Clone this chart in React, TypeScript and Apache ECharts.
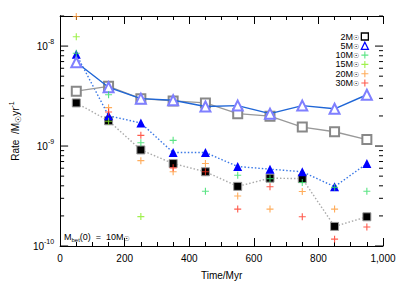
import React, { useEffect, useRef } from "react";
import * as echarts from "echarts";

const times = [50, 150, 250, 350, 450, 550, 650, 750, 850, 950];
const open2M = [3.54e-9, 3.96e-9, 2.98e-9, 2.83e-9, 2.7e-9, 2.11e-9, 1.99e-9, 1.55e-9, 1.39e-9, 1.16e-9];
const open5M = [6.89e-9, 3.87e-9, 2.98e-9, 2.87e-9, 2.49e-9, 2.54e-9, 2.11e-9, 2.54e-9, 2.36e-9, 3.26e-9];
const filled2M = [2.7e-9, 1.79e-9, 9.14e-10, 6.68e-10, 5.53e-10, 3.95e-10, 4.77e-10, 4.72e-10, 1.57e-10, 1.96e-10];
const filled5M = [8.3e-9, 2.01e-9, 1.7e-9, 8.61e-10, 8.61e-10, 6.24e-10, 5.87e-10, 5.53e-10, 3.92e-10, 6.68e-10];
const cross10M = [8.49e-9, 3.26e-9, 1.08e-9, 1.14e-9, 3.53e-10, 5.1e-10, 4.72e-10, 4.32e-10, 3.86e-10, 3.53e-10];
const cross15M = [1.24e-8, 1.77e-9, 1.97e-10, null, null, null, null, null, null, null];
const cross20M = [1.98e-8, 2.42e-9, 7.14e-10, 5.53e-10, 6.68e-10, 3.16e-10, 2.34e-10, 3.51e-10, 2.34e-10, null];
const cross30M = [null, 2.19e-9, 1.28e-9, 6.05e-10, 5.53e-10, 2.34e-10, 3.92e-10, 1.96e-10, 1.17e-10, 1.55e-10];
const yMin = 1e-10;
const yMax = 2e-8;
const hLineValue = 1e-9;

const FONT = "Liberation Sans, Arial, sans-serif";
const SUN = "DejaVu Sans";
const PLUS = "path://M4.2,0H5.8V4.2H10V5.8H5.8V10H4.2V5.8H0V4.2H4.2Z";

const pairs = (arr: (number | null)[]) =>
  times.map((t, i) => [t, arr[i]] as [number, number | null]).filter((p) => p[1] !== null);

export default function App() {
  const ref = useRef<HTMLDivElement>(null);
  useEffect(() => {
    if (!ref.current) return;
    const chart = echarts.init(ref.current, null, { renderer: "svg" });
    const crossSeries = (name: string, data: (number | null)[], color: string) => ({
      name,
      type: "scatter",
      data: pairs(data),
      symbol: PLUS,
      symbolSize: 7,
      itemStyle: { color },
      z: 5,
    });
    const option: any = {
      animation: false,
      backgroundColor: "#fff",
      textStyle: { fontFamily: FONT },
      grid: { left: 49, right: 16, top: 16, bottom: 33, containLabel: false },
      xAxis: [
        {
          type: "value",
          min: 0,
          max: 1000,
          interval: 200,
          position: "bottom",
          name: "Time/Myr",
          nameLocation: "middle",
          nameGap: 24,
          nameTextStyle: { fontSize: 10, color: "#000", fontFamily: FONT },
          axisLine: { show: true, lineStyle: { color: "#000", width: 1 } },
          axisTick: { show: true, inside: true, length: 8, lineStyle: { color: "#000" } },
          minorTick: { show: true, splitNumber: 4, length: 4, lineStyle: { color: "#000" } },
          axisLabel: { fontSize: 10, color: "#000", margin: 7, fontFamily: FONT },
          splitLine: { show: false },
        },
        {
          type: "value",
          min: 0,
          max: 1000,
          interval: 200,
          position: "top",
          axisLine: { show: true, lineStyle: { color: "#000", width: 1 } },
          axisTick: { show: true, inside: true, length: 8, lineStyle: { color: "#000" } },
          minorTick: { show: true, splitNumber: 4, length: 4, lineStyle: { color: "#000" } },
          axisLabel: { show: false },
          splitLine: { show: false },
        },
      ],
      yAxis: [
        {
          type: "log",
          logBase: 10,
          min: yMin,
          max: yMax,
          position: "left",
          name: "{a|Rate  /M}{sub|☉}{a|yr}{sup|-1}",
          nameLocation: "middle",
          nameGap: 35,
          nameTextStyle: {
            color: "#000",
            rich: {
              a: { fontSize: 10, lineHeight: 14, fontFamily: FONT, color: "#000" },
              sub: { fontSize: 8, fontWeight: "bold", lineHeight: 6, verticalAlign: "bottom", fontFamily: SUN, color: "#000" },
              sup: { fontSize: 7, lineHeight: 6, verticalAlign: "top", fontFamily: FONT, color: "#000" },
            },
          },
          axisLine: { show: true, lineStyle: { color: "#000", width: 1 } },
          axisTick: { show: false },
          axisLabel: {
            margin: 6,
            formatter: (v: number) => {
              const l = Math.log10(v);
              const e = Math.round(l);
              if (Math.abs(l - e) > 1e-6) return "";
              return `{b|10}{s|${e}}`;
            },
            rich: {
              b: { fontSize: 10, lineHeight: 16, color: "#000", fontFamily: FONT },
              s: { fontSize: 7, lineHeight: 7, verticalAlign: "top", color: "#000", fontFamily: FONT },
            },
          },
          splitLine: { show: false },
        },
        {
          type: "log",
          logBase: 10,
          min: yMin,
          max: yMax,
          position: "right",
          axisLine: { show: true, lineStyle: { color: "#000", width: 1 } },
          axisTick: { show: false },
          axisLabel: { show: false },
          splitLine: { show: false },
        },
      ],
      legend: {
        data: [
          { name: "2M", icon: "rect", itemStyle: { color: "#fff", borderColor: "#000", borderWidth: 1.3 } },
          { name: "5M", icon: "triangle", itemStyle: { color: "#fff", borderColor: "#0000ff", borderWidth: 1.3 } },
          { name: "10M", icon: PLUS, itemStyle: { color: "#33dd66" } },
          { name: "15M", icon: PLUS, itemStyle: { color: "#88ee22" } },
          { name: "20M", icon: PLUS, itemStyle: { color: "#ff9933" } },
          { name: "30M", icon: PLUS, itemStyle: { color: "#ff3322" } },
        ],
        orient: "vertical",
        right: 25,
        top: 27,
        align: "right",
        itemWidth: 7,
        itemHeight: 7,
        itemGap: 0.3,
        selectedMode: false,
        formatter: (name: string) => `{t|${name}}{s|☉}`,
        textStyle: {
          fontSize: 9,
          color: "#000",
          padding: [0, -3, 0, 0],
          rich: {
            t: { fontSize: 9, lineHeight: 9, width: 18, align: "right", color: "#000", fontFamily: FONT },
            s: { fontSize: 7, fontWeight: "bold", lineHeight: 5, verticalAlign: "bottom", color: "#000", fontFamily: SUN },
          },
        },
      },
      graphic: [],
      series: [
        {
          name: "filled2M",
          type: "line",
          data: pairs(filled2M),
          symbol: "rect",
          symbolSize: 8,
          itemStyle: { color: "#000", borderColor: "#999", borderWidth: 1 },
          lineStyle: { color: "#aaaaaa", width: 1.4, type: [1.5, 2] },
          z: 2,
          markLine: {
            silent: true,
            symbol: "none",
            label: { show: false },
            lineStyle: { color: "#000", width: 1.2, type: [1.5, 2] },
            data: [{ yAxis: hLineValue }],
          },
        },
        {
          name: "filled5M",
          type: "line",
          data: pairs(filled5M),
          symbol: "triangle",
          symbolSize: 9,
          itemStyle: { color: "#0000ff" },
          lineStyle: { color: "#3a78e6", width: 1.4, type: [1.5, 2] },
          z: 3,
        },
        {
          name: "2M",
          type: "line",
          data: pairs(open2M),
          symbol: "emptyRect",
          symbolSize: 9,
          itemStyle: { color: "#888888", borderWidth: 1 },
          lineStyle: { color: "#999999", width: 1.3 },
          z: 3,
        },
        {
          name: "5M",
          type: "line",
          data: pairs(open5M),
          symbol: "emptyTriangle",
          symbolSize: 10,
          itemStyle: { color: "#7f7fff", borderWidth: 1 },
          lineStyle: { color: "#1f66d6", width: 1.4 },
          z: 4,
        },
        crossSeries("10M", cross10M, "#33dd66"),
        crossSeries("15M", cross15M, "#88ee22"),
        crossSeries("20M", cross20M, "#ff9933"),
        crossSeries("30M", cross30M, "#ff3322"),
      ],
    };
    chart.setOption(option);

    const g: any[] = [];
    const rect = (chart as any).getModel().getComponent("grid", 0).coordinateSystem.getRect();
    const xL = rect.x;
    const xR = rect.x + rect.width;
    for (let e = -10; e <= -8; e++) {
      for (let f = 1; f <= 9; f++) {
        const v = f * Math.pow(10, e);
        if (v > yMax * 1.0001) continue;
        const y = chart.convertToPixel({ yAxisIndex: 0 }, v) as number;
        const len = f === 1 ? 8 : 4;
        g.push({ type: "line", shape: { x1: xL, y1: y, x2: xL + len, y2: y }, style: { stroke: "#000", lineWidth: 1 }, z: 10 });
        g.push({ type: "line", shape: { x1: xR - len, y1: y, x2: xR, y2: y }, style: { stroke: "#000", lineWidth: 1 }, z: 10 });
      }
    }
    g.push({
      type: "text",
      left: 64,
      top: 232,
      style: {
        text: "{a|M}{sub|bet}{a|(0)  =  10M}{sub2|☉}",
        rich: {
          a: { fontSize: 9, lineHeight: 12, fill: "#000", fontFamily: FONT },
          sub: { fontSize: 6, lineHeight: 6, verticalAlign: "bottom", fill: "#000", fontFamily: FONT },
          sub2: { fontSize: 7, fontWeight: "bold", lineHeight: 5, verticalAlign: "bottom", fill: "#000", fontFamily: SUN },
        },
      },
      z: 10,
    });
    chart.setOption({ graphic: g });

    return () => chart.dispose();
  }, []);
  return (
    <div
      ref={ref}
      style={{ position: "absolute", left: 0, top: 0, width: 399, height: 285, background: "#fff" }}
    />
  );
}
